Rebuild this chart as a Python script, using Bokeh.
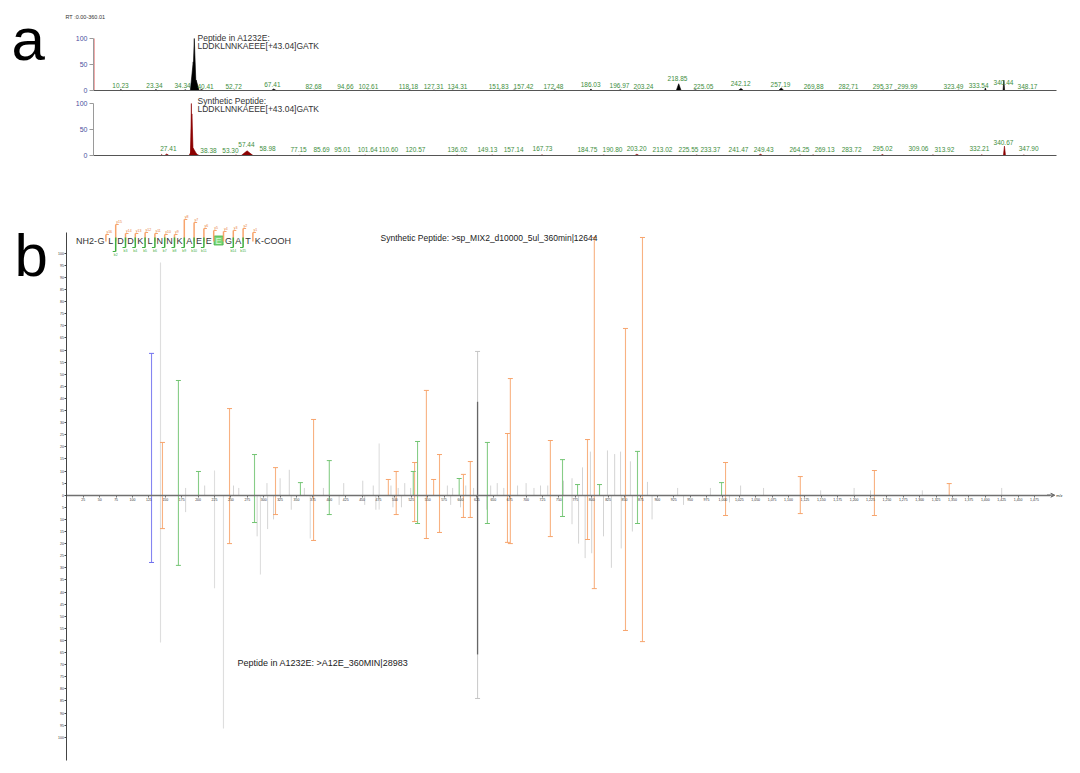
from bokeh.plotting import figure
from bokeh.layouts import column
from bokeh.models import (Range1d, Label, FixedTicker, NumeralTickFormatter,
                          CustomJSTickFormatter, Arrow, VeeHead)
from bokeh.core.properties import value
from bokeh.embed import file_html
from bokeh.resources import INLINE

FONT = "Liberation Sans"

# ---------------- Panel a : chromatograms (RT, relative abundance %) ----------------
a12_peak_rt = [37.7, 37.3, 38.4, 10.23, 23.34, 34.34, 40.41, 52.72, 67.41, 82.68, 94.66,
               102.61, 118.18, 127.31, 134.31, 151.83, 157.42, 172.48, 186.03, 196.97,
               203.24, 218.85, 225.05, 242.12, 257.19, 269.88, 282.71, 295.37, 299.99,
               323.49, 333.54, 340.44, 348.17]
a12_peak_h = [100, 55, 20, 2, 2, 1.5, 2, 0.8, 3, 0.6, 0.8, 1, 1.5, 1, 1, 1, 1.2, 1.5, 3,
              1.5, 1, 13, 1.5, 4, 5, 0.8, 0.8, 1, 1.2, 0.8, 5, 20, 1]
a12_peak_w = [0.7, 1.1, 1.1, 0.5, 0.5, 0.5, 0.8, 0.5, 0.9, 0.5, 0.5, 0.5, 0.6, 0.5, 0.5,
              0.5, 0.8, 0.6, 0.4, 0.6, 0.6, 0.9, 0.8, 1.0, 1.0, 0.5, 0.5, 0.5, 0.8, 0.5,
              0.3, 0.3, 0.6]
a12_label_text = ["10.23", "23.34", "34.34", "40.41", "52.72", "67.41", "82.68", "94.66",
                  "102.61", "118.18", "127.31", "134.31", "151.83", "157.42", "172.48",
                  "186.03", "196.97", "203.24", "218.85", "225.05", "242.12", "257.19",
                  "269.88", "282.71", "295.37", "299.99", "323.49", "333.54", "340.44",
                  "348.17"]
a12_label_x = [10.1, 22.8, 33.3, 41.9, 52.4, 66.9, 82.3, 94.2, 102.8, 117.8, 127.2, 136.1,
               151.5, 160.8, 172.0, 185.9, 196.7, 205.7, 218.4, 228.1, 242.0, 256.9,
               269.3, 282.3, 295.1, 304.4, 321.6, 331.0, 340.3, 349.3]
a12_label_y = [9.6, 9.6, 9.6, 7.7, 7.7, 11.5, 7.7, 7.7, 7.7, 7.7, 7.7, 7.7, 7.7, 7.7, 7.7,
               11.5, 9.6, 7.7, 23.1, 7.7, 13.5, 11.5, 7.7, 7.7, 7.7, 7.7, 7.7, 9.6, 15.4, 7.7]

syn_peak_rt = [36.6, 36.8, 37.3, 27.41, 25.5, 38.38, 53.30, 57.44, 58.98, 77.15, 101.64,
               136.02, 149.13, 167.73, 190.80, 203.20, 225.55, 249.43, 264.25, 269.13,
               295.02, 313.92, 332.21, 340.67, 347.90]
syn_peak_h = [100, 80, 14, 3, 2, 3, 1, 9, 1.5, 0.6, 0.8, 1, 1, 1.5, 1, 2.5, 1, 2.5, 1.2,
              1.2, 2, 1.2, 1.5, 18, 1]
syn_peak_w = [0.3, 0.5, 1.6, 0.8, 0.4, 1.2, 0.5, 2.2, 0.6, 0.5, 0.5, 0.5, 0.5, 0.4, 0.5,
              0.8, 0.5, 0.8, 0.5, 0.5, 0.6, 0.5, 0.4, 0.4, 0.5]
syn_label_text = ["27.41", "38.38", "53.30", "57.44", "58.98", "77.15", "85.69", "95.01",
                  "101.64", "110.60", "120.57", "136.02", "149.13", "157.14", "167.73",
                  "184.75", "190.80", "203.20", "213.02", "225.55", "233.37", "241.47",
                  "249.43", "264.25", "269.13", "283.72", "295.02", "309.06", "313.92",
                  "332.21", "340.67", "347.90"]
syn_label_x = [28.0, 43.0, 51.2, 57.2, 65.1, 76.7, 85.3, 93.1, 102.5, 110.3, 120.4, 136.1,
               147.3, 157.1, 167.9, 184.7, 194.1, 203.1, 212.8, 222.5, 230.7, 241.2, 250.6,
               264.0, 273.4, 283.5, 295.1, 308.5, 318.2, 331.3, 340.3, 349.7]
syn_label_y = [13.5, 9.6, 9.6, 21.2, 13.5, 11.5, 11.5, 11.5, 11.5, 11.5, 11.5, 11.5, 11.5,
               11.5, 13.5, 11.5, 11.5, 13.5, 11.5, 11.5, 11.5, 11.5, 11.5, 11.5, 11.5, 11.5,
               13.5, 13.5, 11.5, 13.5, 25.0, 13.5]

rt_marker = [0.3]
rt_marker_h = [100]

# ---------------- Panel b : mirror spectrum (m/z, relative intensity %) ----------------
mir_mz = [129.0, 142.7, 145.7, 170.0, 200.6, 225.0, 238.7, 247.9, 286.0, 295.0, 318.0,
          356.0, 371.0, 376.0, 400.0, 476.0, 490.0, 502.0, 528.0, 530.0, 534.5, 548.0,
          559.0, 568.0, 598.0, 604.5, 615.0, 626.0, 641.0, 671.6, 676.0, 737.0, 755.5,
          778.4, 793.6, 804.0, 811.9, 851.5, 869.8, 877.4, 997.9, 1004.0, 1118.0, 1231.0,
          1345.0]
mir_syn = [58.6, 96.2, 21.8, 47.4, 9.8, 10.2, 0, 35.8, 16.8, 0, 11.4, 5.2, 0, 31.3, 14.3,
           21.4, 6.5, 9.8, 9.8, 13.5, 22.2, 43.3, 6.5, 16.8, 6.9, 8.6, 13.9, 59.4, 21.8,
           25.5, 48.2, 22.6, 14.7, 4.4, 23.0, 106.5, 4.4, 68.9, 18.1, 106.5, 5.2, 13.5, 7.7,
           10.2, 4.8]
mir_a12 = [27.8, 60.9, 13.8, 29.0, 0, 38.5, 96.4, 20.0, 11.3, 32.8, 8.0, 0, 17.9, 18.7,
           8.0, 5.9, 0, 8.0, 0, 10.9, 11.7, 17.9, 0, 15.4, 0, 9.2, 9.2, 84.0, 11.7, 19.5,
           20.0, 17.1, 8.8, 0, 18.3, 38.6, 0, 55.9, 11.7, 60.5, 0, 8.4, 7.6, 8.4, 0]
mir_ion = ["p", "u", "y", "b", "b", "u", "u", "y", "b", "u", "y", "b", "u", "y", "b", "u",
           "y", "y", "b", "y", "b", "y", "y", "y", "b", "y", "y", "d", "b", "y", "y", "y",
           "b", "b", "y", "y", "b", "y", "b", "y", "b", "y", "y", "y", "y"]

# darker core of the unassigned 626 peak (synthetic up, A1232E down)
core_mz = [626.0]
core_syn = [38.6]
core_a12 = [65.8]

syn_noise_mz = [181, 210, 254, 262, 305, 325, 339, 362, 391, 422, 451, 467, 494, 505, 515,
                524, 580, 588, 608, 620, 646, 656, 666, 687, 700, 712, 722, 733, 757, 770,
                786, 798, 824, 835, 844, 859, 885, 931, 981, 1027, 1062, 1149, 1200, 1225,
                1304, 1425]
syn_noise_int = [3, 4, 4, 3, 5, 7, 10.5, 3, 3, 5, 6, 4, 4, 3, 5, 3, 4, 3, 4, 3, 4, 5, 3, 4,
                 5, 3, 4, 4, 6, 7, 11.5, 18, 18.5, 17, 18, 14, 5.5, 3, 3, 4, 3, 2, 3, 2, 2, 3]
a12_noise_mz = [181, 290, 306, 315, 342, 415, 454, 471, 497, 510, 585, 600, 640, 770, 780,
                790, 800, 818, 830, 845, 862, 892, 940, 1010]
a12_noise_int = [7, 17, 14, 10, 6, 4, 4, 6, 5, 5, 4, 5, 6, 12, 20, 26, 24, 17, 30, 22, 15,
                 10, 4, 3]

mz_ticks = list(range(25, 1476, 25))
rel_ticks = list(range(-100, 101, 5))

# peptide annotation: residues, matched y / b ions (marker length as read, px)
seq_res = list("GLDDKLNNKAEEEGATK")
mod_res = 12
y_len = [6, 16, 7, 7, 8, 7, 6, 6, 21, 18, 12, 10, 9, 10, 12, 8]      # gaps 1..16 -> y16..y1
b_gap = [2, 3, 4, 5, 6, 7, 8, 9, 10, 11, 14, 15]
b_len = [11, 7, 7, 7, 7, 7, 7, 7, 7, 7, 7, 7]

# ---------------- styles ----------------
ION_COL = {"y": "#f7a46c", "b": "#72c472", "p": "#7070ee", "u": "#d8d8d8", "d": "#c4c4c4"}
GREEN_TXT = "#3d8e3d"
AXIS_BLUE = "#4d4d9e"

# panel a geometry: RT -> px and % -> px
A_X0, A_PXRT, A_PXI = 93.0, 2.674, 0.52


def chrom_fig(height, y0px):
    # frame covers the whole figure; axes are drawn at fixed data locations
    f = figure(width=1080, height=height,
               x_range=Range1d(-A_X0 / A_PXRT, (1080 - A_X0) / A_PXRT),
               y_range=Range1d(-(height - y0px) / A_PXI, y0px / A_PXI),
               output_backend="svg", toolbar_location=None,
               min_border_left=0, min_border_right=0, min_border_top=0, min_border_bottom=0)
    f.grid.visible = False
    f.outline_line_color = None
    f.xaxis.fixed_location = 0
    f.xaxis.bounds = (0, 360.01)
    f.xaxis.ticker = FixedTicker(ticks=[])
    f.xaxis.minor_tick_line_color = None
    f.xaxis.axis_line_color = "#555555"
    f.yaxis.fixed_location = 0
    f.yaxis.ticker = FixedTicker(ticks=[0, 50, 100])
    f.yaxis.bounds = (0, 100)
    f.yaxis.minor_tick_line_color = None
    f.yaxis.major_tick_in = 0
    f.yaxis.major_tick_out = 4
    f.yaxis.major_label_standoff = 2
    f.yaxis.axis_line_color = "#9a9a9a"
    f.yaxis.major_tick_line_color = "#9a9a9a"
    f.yaxis.major_label_text_color = AXIS_BLUE
    f.yaxis.major_label_text_font_size = "7px"
    f.yaxis.major_label_text_font = FONT
    return f


def peak_shapes(rt, h, w):
    xs = [[c - d, c, c + d] for c, d in zip(rt, w)]
    ys = [[0, v, 0] for v in h]
    return xs, ys


def ax(px):
    return (px - A_X0) / A_PXRT


# ---- trace 1 : A1232E  (figure spans page y 0..95, baseline at y=90) ----
pa1 = chrom_fig(95, 90)
pa1.segment(x0=rt_marker, y0=[0], x1=rt_marker, y1=rt_marker_h, line_color="#e05050",
            line_alpha=0.6, line_width=1)
xs, ys = peak_shapes(a12_peak_rt, a12_peak_h, a12_peak_w)
pa1.patches(xs, ys, fill_color="#000000", line_color="#000000", line_width=0.6)
pa1.text(x=a12_label_x, y=a12_label_y, text=a12_label_text, text_align="center",
         text_baseline="middle", text_font=value(FONT), text_font_size="6.5px",
         text_color=GREEN_TXT)
pa1.add_layout(Label(x=ax(11), y=(90 - 39) / A_PXI, text="a", text_font=FONT,
                     text_font_size="60px", text_color="#000000", text_baseline="alphabetic"))
pa1.add_layout(Label(x=ax(65), y=(90 - 16) / A_PXI, text="RT :0.00-360.01",
                     text_font=FONT, text_font_size="5.5px", text_color="#333333",
                     text_baseline="middle"))
pa1.add_layout(Label(x=ax(197), y=(90 - 37) / A_PXI, text="Peptide in A1232E:",
                     text_font=FONT, text_font_size="8.5px", text_color="#333333",
                     text_baseline="middle"))
pa1.add_layout(Label(x=ax(197), y=(90 - 45) / A_PXI,
                     text="LDDKLNNKAEEE[+43.04]GATK", text_font=FONT, text_font_size="8.5px",
                     text_color="#333333", text_baseline="middle"))

# ---- trace 2 : synthetic (figure spans page y 95..200, baseline at y=155) ----
pa2 = chrom_fig(105, 60)
xs, ys = peak_shapes(syn_peak_rt, syn_peak_h, syn_peak_w)
pa2.patches(xs, ys, fill_color="#8b0000", line_color="#8b0000", line_width=0.6)
pa2.text(x=syn_label_x, y=syn_label_y, text=syn_label_text, text_align="center",
         text_baseline="middle", text_font=value(FONT), text_font_size="6.5px",
         text_color=GREEN_TXT)
pa2.add_layout(Label(x=ax(197), y=(155 - 100) / A_PXI, text="Synthetic Peptide:",
                     text_font=FONT, text_font_size="8.5px", text_color="#333333",
                     text_baseline="middle"))
pa2.add_layout(Label(x=ax(197), y=(155 - 108) / A_PXI,
                     text="LDDKLNNKAEEE[+43.04]GATK", text_font=FONT, text_font_size="8.5px",
                     text_color="#333333", text_baseline="middle"))

# ---------------- Panel b (figure spans page y 200..773) ----------------
PXM = 0.656       # px per m/z
PXI = 2.42        # px per %
X0PX, Y0PX = 66.4, 494.7


def bx(px):
    return (px - X0PX) / PXM


def by(py):
    return (Y0PX - py) / PXI


pb = figure(width=1080, height=573, x_range=Range1d(bx(0), bx(1080)),
            y_range=Range1d(by(773), by(200)), output_backend="svg", toolbar_location=None,
            min_border_left=0, min_border_right=0, min_border_top=0, min_border_bottom=0)
pb.grid.visible = False
pb.outline_line_color = None
pb.xaxis.fixed_location = 0
pb.xaxis.ticker = FixedTicker(ticks=mz_ticks)
pb.xaxis.formatter = NumeralTickFormatter(format="0,0")
pb.xaxis.bounds = (0, 1500)
pb.xaxis.axis_line_color = "#707070"
pb.xaxis.axis_line_width = 1.6
pb.xaxis.major_tick_line_color = "#707070"
pb.xaxis.major_tick_in = 0
pb.xaxis.major_tick_out = 2
pb.xaxis.minor_tick_line_color = None
pb.xaxis.major_label_text_font_size = "3.5px"
pb.xaxis.major_label_standoff = 1
pb.xaxis.major_label_text_color = "#333333"

pb.yaxis.fixed_location = 0
pb.yaxis.ticker = FixedTicker(ticks=rel_ticks)
pb.yaxis.formatter = CustomJSTickFormatter(code="return Math.abs(tick).toString()")
pb.yaxis.bounds = (by(760), by(232))
pb.yaxis.axis_line_color = "#444444"
pb.yaxis.major_tick_line_color = "#444444"
pb.yaxis.major_tick_in = 0
pb.yaxis.major_tick_out = 2
pb.yaxis.minor_tick_line_color = None
pb.yaxis.major_label_text_font_size = "3.5px"
pb.yaxis.major_label_standoff = 1
pb.yaxis.major_label_text_color = "#333333"

pb.add_layout(Arrow(end=VeeHead(size=4, line_color="#707070", fill_color="#707070"),
                    x_start=1494, y_start=0, x_end=1506, y_end=0, line_color="#707070",
                    line_width=1.2))
pb.add_layout(Label(x=1508, y=0, text="m/z", text_font=FONT, text_font_size="4px",
                    text_color="#333333", text_baseline="middle"))

# noise peaks
pb.segment(x0=syn_noise_mz, y0=[0] * len(syn_noise_mz), x1=syn_noise_mz, y1=syn_noise_int,
           line_color="#d4d4d4", line_width=1)
pb.segment(x0=a12_noise_mz, y0=[0] * len(a12_noise_mz), x1=a12_noise_mz,
           y1=[-v for v in a12_noise_int], line_color="#d4d4d4", line_width=1)

# annotated / major peaks
for sign, vals in ((1, mir_syn), (-1, mir_a12)):
    xs_, ys_, cs_, cx, cy, cc = [], [], [], [], [], []
    for m, v, ion in zip(mir_mz, vals, mir_ion):
        if v <= 0:
            continue
        xs_.append(m)
        ys_.append(sign * v)
        cs_.append(ION_COL[ion])
        if ion != "u":
            cx.append(m)
            cy.append(sign * v)
            cc.append(ION_COL[ion])
    pb.segment(x0=xs_, y0=[0] * len(xs_), x1=xs_, y1=ys_, line_color=cs_, line_width=1.1,
               line_alpha=0.85)
    pb.scatter(x=cx, y=cy, marker="dash", size=5, line_color=cc, line_width=1)

pb.segment(x0=core_mz, y0=[0], x1=core_mz, y1=core_syn, line_color="#666666", line_width=1.3)
pb.segment(x0=core_mz, y0=[0], x1=core_mz, y1=[-v for v in core_a12], line_color="#666666",
           line_width=1.3)

# peptide sequence annotation
SEQ_PX0, SEQ_DPX, SEQ_PY = 100.5, 9.8, 240
res_x = [bx(SEQ_PX0 + i * SEQ_DPX) for i in range(len(seq_res))]
m_px = SEQ_PX0 + mod_res * SEQ_DPX
pb.rect(x=[bx(m_px)], y=[by(SEQ_PY)], width=9 / PXM, height=9 / PXI, fill_color="#62d062",
        fill_alpha=0.85, line_color="#3fae3f", line_width=0.8)
res_col = ["#333333"] * len(seq_res)
res_col[mod_res] = "#d9f7d9"
pb.text(x=res_x, y=[by(SEQ_PY)] * len(seq_res), text=seq_res, text_align="center",
        text_baseline="middle", text_font=value(FONT), text_font_size="9px",
        text_color=res_col)
pb.text(x=[bx(SEQ_PX0 - 4)], y=[by(SEQ_PY)], text=["NH2-"], text_align="right",
        text_baseline="middle", text_font=value(FONT), text_font_size="9px",
        text_color="#333333")
pb.text(x=[bx(SEQ_PX0 + 16 * SEQ_DPX + 3.2)], y=[by(SEQ_PY)], text=["-COOH"],
        text_align="left", text_baseline="middle", text_font=value(FONT),
        text_font_size="9px", text_color="#333333")

gx = [bx(SEQ_PX0 + (g - 0.5) * SEQ_DPX) for g in range(1, 17)]
ytop = [by(SEQ_PY - L) for L in y_len]
pb.segment(x0=gx, y0=[by(SEQ_PY + 1)] * 16, x1=gx, y1=ytop, line_color=ION_COL["y"],
           line_width=1.5)
pb.segment(x0=gx, y0=ytop, x1=[g + 3 / PXM for g in gx], y1=ytop, line_color=ION_COL["y"],
           line_width=1.2)
pb.text(x=[g + 0.5 / PXM for g in gx], y=[t + 1 / PXI for t in ytop],
        text=["y%d" % (17 - g) for g in range(1, 17)], text_align="left",
        text_baseline="bottom", text_font=value(FONT), text_font_size="3.5px",
        text_color="#e8803a")
bgx = [bx(SEQ_PX0 + (g - 0.5) * SEQ_DPX) for g in b_gap]
bbot = [by(SEQ_PY + L) for L in b_len]
pb.segment(x0=bgx, y0=[by(SEQ_PY - 3)] * len(bgx), x1=bgx, y1=bbot,
           line_color="#3fae3f", line_width=1.5)
pb.segment(x0=bgx, y0=bbot, x1=[g - 3 / PXM for g in bgx], y1=bbot,
           line_color="#3fae3f", line_width=1.2)
pb.text(x=bgx, y=[b - 1 / PXI for b in bbot], text=["b%d" % g for g in b_gap],
        text_align="center", text_baseline="top", text_font=value(FONT),
        text_font_size="3.5px", text_color="#3fae3f")

pb.add_layout(Label(x=bx(380), y=by(237.5),
                    text="Synthetic Peptide: >sp_MIX2_d10000_5ul_360min|12644",
                    text_font=FONT, text_font_size="8.5px", text_color="#222222",
                    text_baseline="middle"))
pb.add_layout(Label(x=bx(237), y=by(662), text="Peptide in A1232E: >A12E_360MIN|28983",
                    text_font=FONT, text_font_size="9px", text_color="#222222",
                    text_baseline="middle"))
pb.add_layout(Label(x=bx(14), y=by(255), text="b", text_font=FONT, text_font_size="60px",
                    text_color="#000000", text_baseline="alphabetic"))

layout = column(pa1, pa2, pb, spacing=0)
open("out.html", "w").write(file_html(layout, INLINE))
